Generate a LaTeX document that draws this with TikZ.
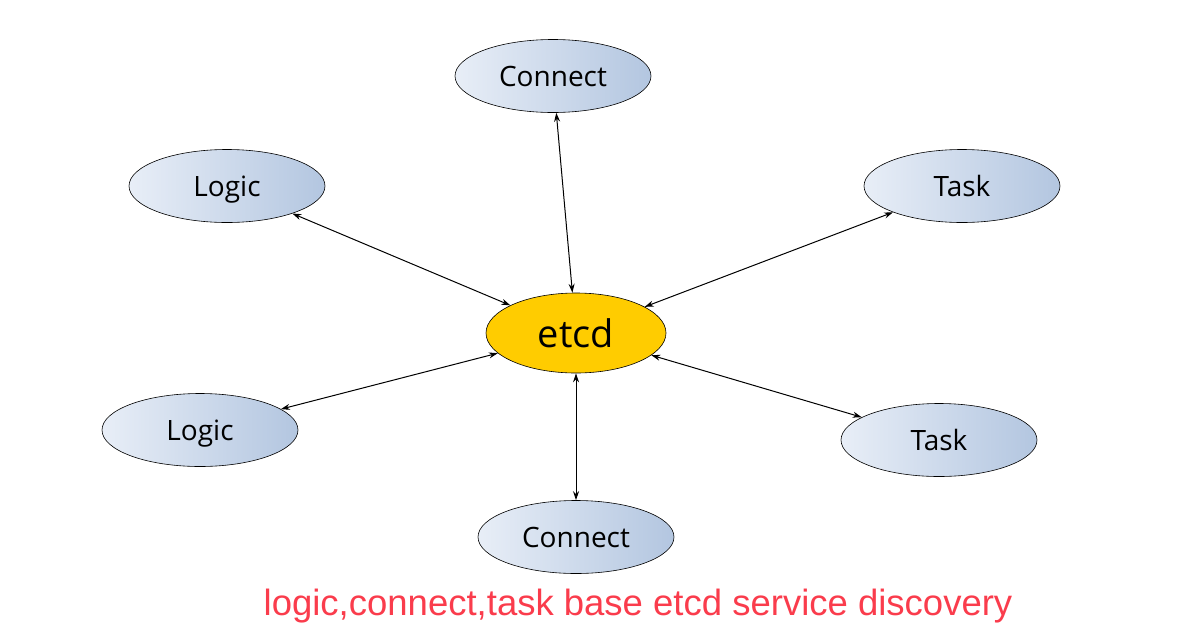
\documentclass[tikz,border=0pt]{standalone}
\usepackage{fontspec}
\setmainfont{Open Sans}
\newfontfamily\capfont{Liberation Sans}
\usetikzlibrary{shapes.geometric,arrows.meta}
\definecolor{lightend}{HTML}{E8EEF7}
\definecolor{darkend}{HTML}{B3C6E0}
\definecolor{etcdfill}{HTML}{FFCC00}
\definecolor{capred}{HTML}{FA3C4C}
\tikzset{
  svc/.style={ellipse, draw=black, line width=0.6pt, minimum width=196pt, minimum height=73pt,
    inner sep=0pt, text depth=0pt, left color=lightend, right color=darkend, font=\fontsize{28}{32}\selectfont},
  hub/.style={ellipse, draw=black, line width=0.6pt, minimum width=180pt, minimum height=80pt,
    inner sep=0pt, fill=etcdfill, font=\fontsize{38}{44}\selectfont},
  link/.style={line width=1pt, {Stealth[length=9pt,width=6pt]}-{Stealth[length=9pt,width=6pt]}}
}
\begin{document}
\begin{tikzpicture}[x=1pt,y=-1pt]
\useasboundingbox (0,0) rectangle (1192,638);
\node[hub] (etcd) at (576,333) {etcd};
\node[svc] (c1) at (553,76) {Connect};
\node[svc] (l1) at (227,186) {Logic};
\node[svc] (t1) at (962,186) {Task};
\node[svc] (l2) at (200,430) {Logic};
\node[svc] (t2) at (939,440) {Task};
\node[svc] (c2) at (576,537) {Connect};
\draw[link] (c1) -- (etcd);
\draw[link] (l1) -- (etcd);
\draw[link] (t1) -- (etcd);
\draw[link] (l2) -- (etcd);
\draw[link] (t2) -- (etcd);
\draw[link] (c2) -- (etcd);
\node[text=capred, font=\capfont\fontsize{36.5}{42}\selectfont] (cap) at (638,606) {logic,connect,task base etcd service discovery};
\end{tikzpicture}
\end{document}
